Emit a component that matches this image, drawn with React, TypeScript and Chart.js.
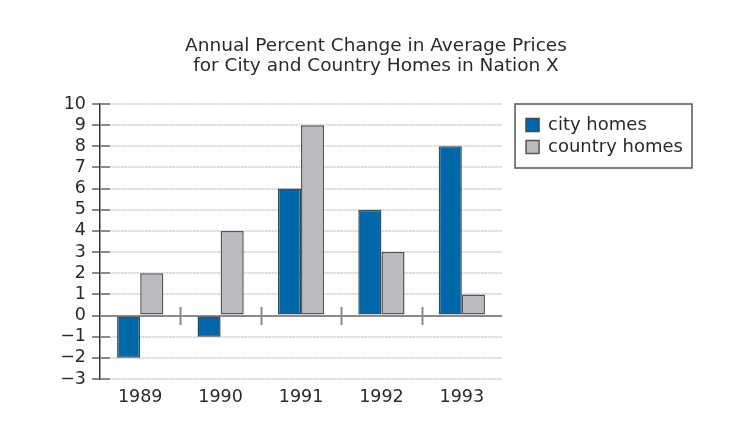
import React, { useEffect, useRef } from "react";
import { Chart, registerables } from "chart.js";

Chart.register(...registerables);

const categories = ["1989", "1990", "1991", "1992", "1993"];
const cityHomes = [-2, -1, 6, 5, 8];
const countryHomes = [2, 4, 9, 3, 1];
const yTickLabels = ["\u22123", "\u22122", "\u22121", "0", "1", "2", "3", "4", "5", "6", "7", "8", "9", "10"];
const titleLines = ["Annual Percent Change in Average Prices", "for City and Country Homes in Nation X"];
const seriesLabels = ["city homes", "country homes"];

const FONT = "'DejaVu Sans', Verdana, sans-serif";
const TEXT = "#2a2a2a";

const decorPlugin = {
  id: "decor",
  beforeDatasetsDraw(chart: any) {
    const { ctx, chartArea, scales } = chart;
    const y = scales.y;
    const x = scales.x;
    ctx.save();
    ctx.strokeStyle = "#8a8a8a";
    ctx.lineWidth = 2;
    y.ticks.forEach((t: any) => {
      const py = Math.round(y.getPixelForValue(t.value));
      ctx.beginPath();
      ctx.moveTo(chartArea.left, py);
      ctx.lineTo(chartArea.left + 10, py);
      ctx.stroke();
    });
    const zy = Math.round(y.getPixelForValue(0));
    ctx.beginPath();
    ctx.moveTo(chartArea.left, zy);
    ctx.lineTo(chartArea.right, zy);
    ctx.stroke();
    for (let i = 0; i < categories.length - 1; i++) {
      const px = Math.round(x.getPixelForValue(i + 0.5)) + 0.5;
      ctx.beginPath();
      ctx.moveTo(px, zy - 9);
      ctx.lineTo(px, zy + 9);
      ctx.stroke();
    }
    ctx.restore();
  },
  afterDraw(chart: any) {
    const { ctx, legend } = chart;
    if (!legend) return;
    ctx.save();
    ctx.strokeStyle = "#555";
    ctx.lineWidth = 1.5;
    ctx.strokeRect(legend.left - 7, legend.top, legend.width + 6, 64);
    ctx.restore();
  },
};

export default function App() {
  const ref = useRef<HTMLCanvasElement>(null);
  useEffect(() => {
    const chart = new Chart(ref.current as HTMLCanvasElement, {
      type: "bar",
      data: {
        labels: categories,
        datasets: [
          {
            label: seriesLabels[0],
            data: cityHomes,
            backgroundColor: "#0068a8",
            borderColor: "#3a4a5a",
            borderWidth: 1.5,
            borderSkipped: false,
          },
          {
            label: seriesLabels[1],
            data: countryHomes,
            backgroundColor: "#b9bbbf",
            borderColor: "#555",
            borderWidth: 1.5,
            borderSkipped: false,
          },
        ],
      },
      options: {
        animation: false,
        responsive: false,
        maintainAspectRatio: false,
        layout: { padding: { left: 59, right: 36, top: 0, bottom: 22 } },
        datasets: { bar: { categoryPercentage: 0.575, barPercentage: 1 } },
        plugins: {
          title: {
            display: true,
            text: titleLines,
            color: TEXT,
            font: { family: FONT, size: 18.5, weight: "normal", lineHeight: "20px" },
            padding: { top: 36, bottom: 28 },
          },
          legend: {
            position: "right",
            align: "start",
            fullSize: false,
            maxWidth: 400,
            title: { display: true, text: "", padding: { top: 8, bottom: 0 }, font: { size: 1, lineHeight: "0px" } },
            labels: {
              color: TEXT,
              font: { family: FONT, size: 18 },
              boxWidth: 13,
              boxHeight: 13,
              padding: 4,
            },
          },
          tooltip: { enabled: false },
        },
        scales: {
          x: {
            grid: { display: false, drawTicks: false },
            border: { display: false },
            ticks: { color: TEXT, font: { family: FONT, size: 17.5 }, padding: 8 },
          },
          y: {
            min: -3,
            max: 10,
            afterFit: (s: any) => {
              s.width = 41;
            },
            grid: {
              color: "#d4d4d4",
              lineWidth: 2,
              tickColor: "#8a8a8a",
              tickLength: 8,
              tickBorderDash: [],
              drawTicks: true,
            } as any,
            border: { display: true, color: "#333", width: 1.5, dash: [2, 1] as any },
            ticks: {
              stepSize: 1,
              autoSkip: false,
              color: TEXT,
              font: { family: FONT, size: 17.5 },
              padding: 6,
              callback: (_v: any, i: number) => yTickLabels[i],
            },
          },
          y2: {
            position: "right",
            display: true,
            afterFit: (s: any) => {
              s.width = 20;
            },
            grid: { display: false, drawTicks: false },
            border: { display: false },
            ticks: { display: false },
          },
        },
      } as any,
      plugins: [decorPlugin],
    });
    return () => chart.destroy();
  }, []);
  return (
    <div style={{ position: "fixed", left: 0, top: 0, width: 729, height: 438, background: "#fff" }}>
      <canvas ref={ref} width={729} height={438} style={{ width: 729, height: 438 }} />
    </div>
  );
}
